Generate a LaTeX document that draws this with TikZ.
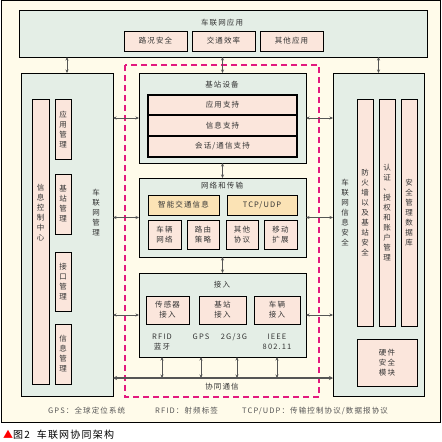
\documentclass[tikz,border=0pt]{standalone}
\usepackage{fontspec}
\newfontfamily\cjk{Noto Sans CJK SC}[LetterSpace=15]
\newfontfamily\cjkc{Noto Sans CJK SC}[LetterSpace=12]
\usetikzlibrary{arrows.meta}
\definecolor{bgc}{HTML}{FFFBEA}
\definecolor{grn}{HTML}{E4EEE6}
\definecolor{pnk}{HTML}{FBE6DC}
\definecolor{ylw}{HTML}{FBE3B5}
\definecolor{mag}{HTML}{E3197E}
\definecolor{txt}{HTML}{333333}
\definecolor{arrc}{HTML}{555555}
\newcommand{\bx}[7]{\node[#6, minimum width={(#4-#2)*1pt}, minimum height={(#5-#3)*1pt}] (#1) at ({(#2+#4)/2},{(#3+#5)/2}) {#7};}
\tikzset{
  base/.style={draw=black, line width=0.8pt, inner sep=0pt, outer sep=0pt, text=txt, align=center},
  bigbox/.style={base, fill=grn},
  subbox/.style={base, fill=pnk},
  rowbox/.style={base, fill=pnk, line width=1.1pt},
  ybox/.style={base, fill=ylw},
  lbl/.style={inner sep=0pt, text=txt, align=center},
  arr/.style={draw=arrc, line width=0.6pt, {Stealth[length=3.5pt,width=3pt]}-{Stealth[length=3.5pt,width=3pt]}},
  busline/.style={draw=arrc, line width=1.6pt, {Stealth[length=4pt,width=4pt]}-{Stealth[length=4pt,width=4pt]}},
}
\begin{document}
\begin{tikzpicture}[x=1pt,y=-1pt, font=\cjk\fontsize{7.5}{10}\selectfont]
\useasboundingbox[fill=white] (0,0) rectangle (442,442);
\draw[fill=bgc, line width=1pt] (1.5,0.5) rectangle (440.5,422.5);

% top application box
\bx{app}{19}{10}{427}{57}{bigbox}{}
\node[lbl] (appt) at (222,23) {车联网应用};
\bx{ap1}{124}{31}{187}{51}{subbox}{路况安全}
\bx{ap2}{192}{31}{255}{51}{subbox}{交通效率}
\bx{ap3}{260}{31}{323}{51}{subbox}{其他应用}

% magenta dashed frame
\draw[mag, line width=2.2pt, dash pattern=on 6pt off 4pt] (125,65) rectangle (319,397);

% left management box
\bx{mgmt}{21}{73}{113}{396}{bigbox}{}
\node[lbl] (mgmtt) at (96,213) {车\\联\\网\\管\\理};
\bx{ctrl}{32}{99}{49}{384}{subbox}{}
\node[lbl] (ctrlt) at (40.5,213) {信\\息\\控\\制\\中\\心};
\bx{m1}{55}{99}{71}{159}{subbox}{应\\用\\管\\理}
\bx{m2}{55}{174}{71}{234}{subbox}{基\\站\\管\\理}
\bx{m3}{55}{252}{71}{311}{subbox}{接\\口\\管\\理}
\bx{m4}{55}{324}{71}{384}{subbox}{信\\息\\管\\理}

% right security box
\bx{sec}{333}{73}{424}{396}{bigbox}{}
\node[lbl] (sect) at (345,213) {车\\联\\网\\信\\息\\安\\全};
\bx{s1}{357}{99}{373}{326}{subbox}{防\\火\\墙\\以\\及\\基\\站\\安\\全}
\bx{s2}{379}{99}{395}{326}{subbox}{认\\证\\、\\授\\权\\和\\账\\户\\管\\理}
\bx{s3}{401}{99}{417}{326}{subbox}{安\\全\\管\\理\\数\\据\\库}
\bx{hsm}{357}{339}{417}{386}{subbox}{硬件\\安全\\模块}

% base station equipment
\bx{bs}{139}{73}{306}{163}{bigbox}{}
\node[lbl] (bst) at (222,85) {基站设备};
\bx{b1}{148}{95}{297}{115}{rowbox}{应用支持}
\bx{b2}{148}{115}{297}{136}{rowbox}{信息支持}
\bx{b3}{148}{136}{297}{157}{rowbox}{会话/通信支持}

% network and transport
\bx{net}{139}{178}{306}{257}{bigbox}{}
\node[lbl] (nett) at (222,186) {网络和传输};
\bx{its}{148}{195}{219}{215}{ybox}{智能交通信息}
\bx{tcp}{227}{195}{297}{215}{ybox}{TCP/UDP}
\bx{n1}{148}{220}{181}{249}{subbox}{车辆\\网络}
\bx{n2}{187}{220}{219}{249}{subbox}{路由\\策略}
\bx{n3}{226}{220}{258}{249}{subbox}{其他\\协议}
\bx{n4}{264}{220}{297}{249}{subbox}{移动\\扩展}

% access
\bx{acc}{139}{273}{306}{357}{bigbox}{}
\node[lbl] (acct) at (222,285) {接入};
\bx{a1}{146}{296}{189}{324}{subbox}{传感器\\接入}
\bx{a2}{199}{296}{246}{324}{subbox}{基站\\接入}
\bx{a3}{254}{296}{300}{324}{subbox}{车辆\\接入}
\node[lbl] (l1) at (162,342) {RFID\\蓝牙};
\node[lbl] (l2) at (201,337) {GPS};
\node[lbl] (l3) at (234,337) {2G/3G};
\node[lbl] (l4) at (277,342) {IEEE\\802.11};

% cooperative communication bus
\coordinate (c0) at (222,378);
\coordinate (c1) at (162,378);
\coordinate (c2) at (201,378);
\coordinate (c3) at (237,378);
\coordinate (c4) at (277,378);
\draw[busline] (mgmt.east |- c0) -- (sec.west |- c0);
\node[lbl] (bust) at (222,387) {协同通信};
\foreach \c in {c1,c2,c3,c4} \draw[arr] (acc.south -| \c) -- (\c);

% vertical arrows
\draw[arr] (app.south -| mgmt.north) -- (mgmt.north);
\draw[arr] (app.south -| bs.north) -- (bs.north);
\draw[arr] (app.south -| sec.north) -- (sec.north);
\draw[arr] (bs.south) -- (net.north);
\draw[arr] (net.south) -- (acc.north);

% horizontal arrows
\draw[arr] (mgmt.east |- bs.west) -- (bs.west);
\draw[arr] (mgmt.east |- net.west) -- (net.west);
\draw[arr] (mgmt.east |- acc.west) -- (acc.west);
\draw[arr] (bs.east) -- (sec.west |- bs.east);
\draw[arr] (net.east) -- (sec.west |- net.east);
\draw[arr] (acc.east) -- (sec.west |- acc.east);

% legend
\node[lbl, anchor=west, text=arrc] (lg1) at (48,411) {GPS：全球定位系统};
\node[lbl, anchor=west, text=arrc] (lg2) at (155,411) {RFID：射频标签};
\node[lbl, anchor=west, text=arrc] (lg3) at (242,411) {TCP/UDP：传输控制协议/数据报协议};

% caption
\node[inner sep=0pt, anchor=west, font=\cjkc\fontsize{10}{12}\selectfont] (cap) at (3,435) {\textcolor{red}{▲}图2\ \ 车联网协同架构};
\end{tikzpicture}
\end{document}
